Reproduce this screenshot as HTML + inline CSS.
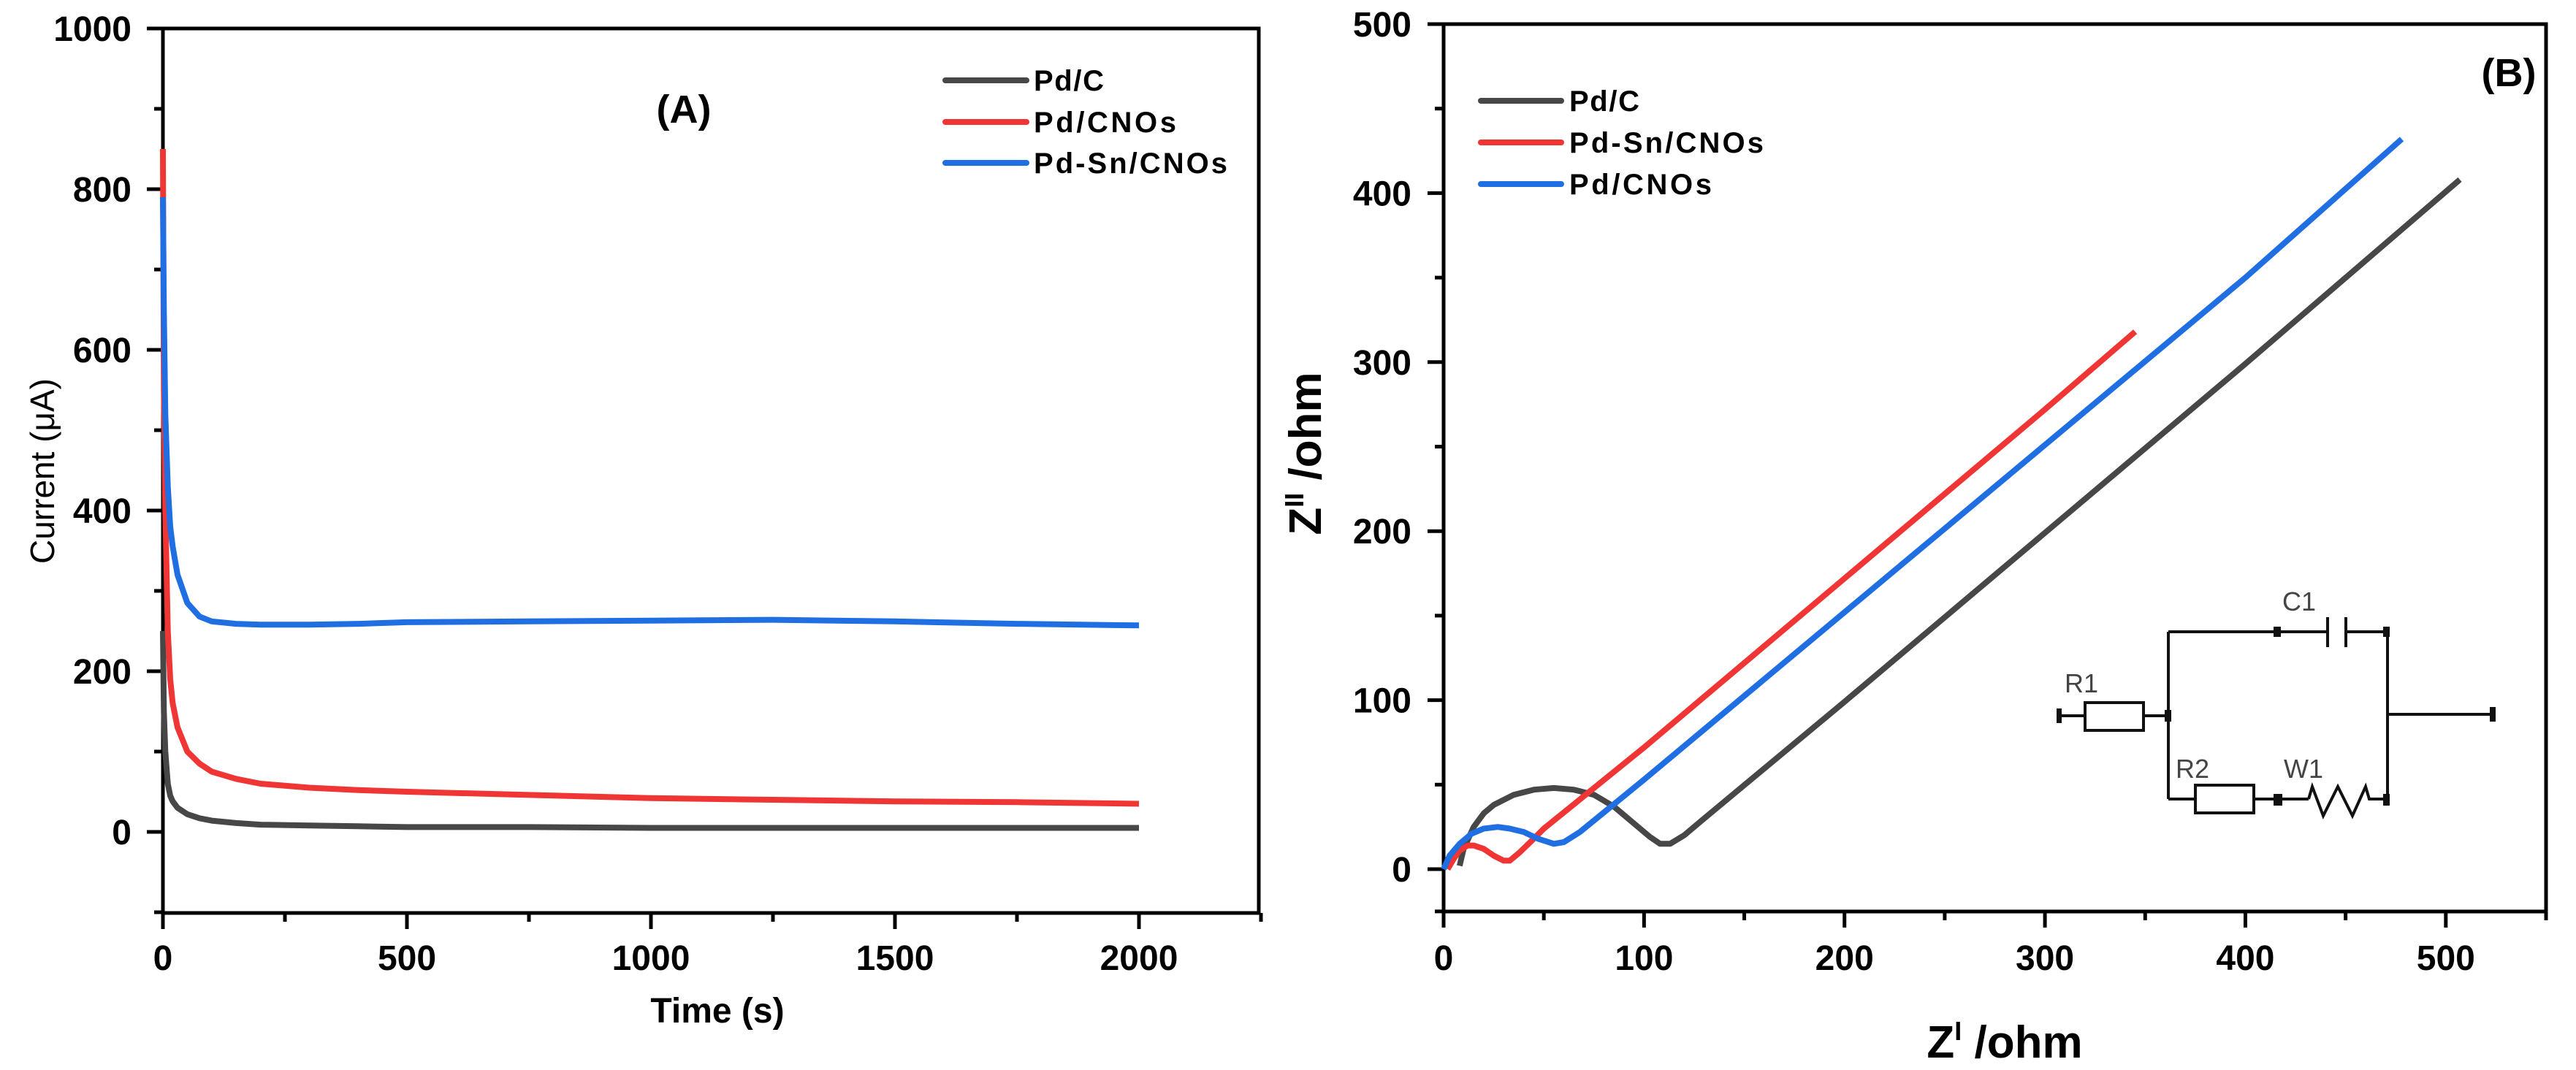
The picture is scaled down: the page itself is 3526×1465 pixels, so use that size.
<!DOCTYPE html>
<html><head><meta charset="utf-8"><style>
html,body{margin:0;padding:0;background:#fff}
svg{display:block}
text{font-family:"Liberation Sans",Arial,sans-serif}
</style></head><body>
<svg id="fig" width="3526" height="1465" viewBox="0 0 3526 1465" xmlns="http://www.w3.org/2000/svg">
<g id="panelA"></g>
<g id="panelB"></g>
<g stroke="#111" stroke-width="4" fill="none">
  <line x1="2818" y1="980" x2="2854" y2="980"/>
  <rect x="2854" y="962" width="80" height="38" fill="#fff"/>
  <line x1="2934" y1="980" x2="2968" y2="980"/>
  <line x1="2968" y1="865" x2="2968" y2="1094"/>
  <line x1="2968" y1="865" x2="3186" y2="865"/>
  <line x1="3186" y1="845" x2="3186" y2="886"/>
  <line x1="3211" y1="845" x2="3211" y2="886"/>
  <line x1="3211" y1="865" x2="3268" y2="865"/>
  <line x1="3268" y1="865" x2="3268" y2="1094"/>
  <line x1="3268" y1="978" x2="3412" y2="978"/>
  <line x1="2968" y1="1094" x2="3005" y2="1094"/>
  <rect x="3005" y="1075" width="80" height="38" fill="#fff"/>
  <line x1="3085" y1="1094" x2="3160" y2="1094"/>
  <polyline points="3160,1094 3165,1077 3180,1117 3200,1077 3220,1117 3238,1077 3243,1094 3268,1094"/>
  <g fill="#111" stroke="none">
    <rect x="2815" y="970" width="7" height="20"/>
    <rect x="2963" y="972" width="9" height="16"/>
    <rect x="3112" y="858" width="10" height="14"/>
    <rect x="3262" y="858" width="9" height="14"/>
    <rect x="3408" y="968" width="8" height="20"/>
    <rect x="3112" y="1087" width="12" height="16"/>
    <rect x="3262" y="1087" width="9" height="16"/>
  </g>
</g>
<g fill="#444" font-size="36">
  <text x="2826" y="948">R1</text>
  <text x="2978" y="1065">R2</text>
  <text x="3126" y="1065">W1</text>
  <text x="3124" y="836">C1</text>
</g>
</svg>
<script>
// ---------- Panel A data ----------
const aTime = [0, 2, 5, 10, 15, 20, 30, 50, 75, 100, 150, 200, 300, 400, 500, 750, 1000, 1250, 1500, 1750, 2000];
const aPdC = [250, 150, 100, 60, 45, 38, 30, 22, 17, 14, 11, 9, 8, 7, 6, 6, 5, 5, 5, 5, 5];
const aPdCNOs = [850, 550, 400, 250, 190, 160, 130, 100, 85, 75, 66, 60, 55, 52, 50, 46, 42, 40, 38, 37, 35];
const aPdSnCNOs = [790, 650, 520, 430, 380, 355, 320, 285, 268, 262, 259, 258, 258, 259, 261, 262, 263, 264, 262, 259, 257];
const aXTicks = [0, 500, 1000, 1500, 2000];
const aYTicks = [0, 200, 400, 600, 800, 1000];
const aLegend = ["Pd/C", "Pd/CNOs", "Pd-Sn/CNOs"];

// ---------- Panel B data ----------
const bPdCx = [8, 10, 15, 20, 25, 35, 45, 55, 65, 75, 85, 95, 103, 108, 113, 120, 130, 200, 300, 400, 507];
const bPdCy = [2, 12, 25, 33, 38, 44, 47, 48, 47, 44, 37, 27, 19, 15, 15, 20, 30, 99, 199, 299, 408];
const bSnx = [2, 5, 8, 12, 15, 20, 25, 30, 33, 38, 45, 50, 100, 200, 300, 345];
const bSny = [0, 6, 11, 14, 14, 12, 8, 5, 5, 10, 18, 24, 72, 172, 272, 318];
const bPdCNOsx = [0, 3, 8, 14, 20, 27, 33, 40, 47, 55, 60, 68, 100, 200, 300, 400, 478];
const bPdCNOsy = [0, 8, 15, 21, 24, 25, 24, 22, 18, 15, 16, 22, 53, 152, 251, 350, 432];
const bXTicks = [0, 100, 200, 300, 400, 500];
const bYTicks = [0, 100, 200, 300, 400, 500];
const bLegend = ["Pd/C", "Pd-Sn/CNOs", "Pd/CNOs"];

const NS = "http://www.w3.org/2000/svg";
const COLORS = {k:"#474747", r:"#f03535", b:"#1f6fe3"};
function mk(parent, tag, attrs, txt){
  const e = document.createElementNS(NS, tag);
  for (const k in attrs) e.setAttribute(k, attrs[k]);
  if (txt !== undefined) e.textContent = txt;
  parent.appendChild(e);
  return e;
}

// ---------- Panel A ----------
const A = document.getElementById("panelA");
const aL = 223, aR = 1723, aT = 39, aB = 1250;
const ax = v => aL + (v - 0) * (1559 - 223) / 2000;
const ay = v => 1139 - v * 1.1;

function frame(g, L, R, T, B){
  const f = mk(g, "rect", {x:L, y:T, width:R-L, height:B-T, fill:"none", stroke:"#000", "stroke-width":5});
  
  
}
frame(A, aL, aR, aT, aB);

for (let v = 0; v <= 2250; v += 250) {
  const major = v % 500 === 0;
  const t = mk(A, "line", {x1:ax(v), x2:ax(v), y1:aB, y2:aB + (major ? 22 : 12), stroke:"#000", "stroke-width":5});
  
  
}
for (let v = -100; v <= 1000; v += 100) {
  const major = v % 200 === 0;
  const t = mk(A, "line", {x1:aL, x2:aL - (major ? 22 : 12), y1:ay(v), y2:ay(v), stroke:"#000", "stroke-width":5});
  
  
}
aXTicks.forEach(v => {
  const t = mk(A, "text", {x:ax(v), y:1328, "font-size":48, "font-weight":"bold", "text-anchor":"middle"}, String(v));
  
  
});
aYTicks.forEach(v => {
  const t = mk(A, "text", {x:180, y:ay(v) + 17, "font-size":48, "font-weight":"bold", "text-anchor":"end"}, String(v));
  
  
});
{
  const t = mk(A, "text", {x:982, y:1400, "font-size":48, "font-weight":"bold", "text-anchor":"middle"}, "Time (s)");
  
  
  const y = mk(A, "text", {x:0, y:0, "font-size":46, "text-anchor":"middle", transform:"translate(74,645) rotate(-90)"}, "Current (μA)");
  
  
  const p = mk(A, "text", {x:936, y:168, "font-size":54, "font-weight":"bold", "text-anchor":"middle"}, "(A)");
  
  
}
function series(g, xs, ys, fx, fy, color, name){
  const pts = xs.map((x, i) => fx(x).toFixed(1) + "," + fy(ys[i]).toFixed(1)).join(" ");
  const p = mk(g, "polyline", {points:pts, fill:"none", stroke:color, "stroke-width":8, "stroke-linejoin":"round", "stroke-linecap":"butt"});
  
  
}
series(A, aTime, aPdC, ax, ay, COLORS.k, "series-pd-c");
series(A, aTime, aPdCNOs, ax, ay, COLORS.r, "series-pd-cnos");
series(A, aTime, aPdSnCNOs, ax, ay, COLORS.b, "series-pd-sn-cnos");

function legend(g, labels, colors, x1, x2, tx, ys, widths){
  labels.forEach((lab, i) => {
    const l = mk(g, "line", {x1:x1, x2:x2, y1:ys[i], y2:ys[i], stroke:colors[i], "stroke-width":8, "stroke-linecap":"round"});
    
    
    const t = mk(g, "text", {x:tx, y:ys[i] + 14, "font-size":40, "font-weight":"bold", textLength:widths[i], lengthAdjust:"spacing"}, lab);
    
    
  });
}
legend(A, aLegend, [COLORS.k, COLORS.r, COLORS.b], 1294, 1405, 1415, [110, 167, 223], [96, 195, 265]);

// ---------- Panel B ----------
const B = document.getElementById("panelB");
const bL = 1976, bR = 3485, bT = 33, bB = 1248;
const bx = v => bL + v * (bR - bL) / 550;
const by = v => 1190 - v * 2.314;
frame(B, bL, bR, bT, bB);
for (let v = 0; v <= 550; v += 50) {
  const major = v % 100 === 0;
  const t = mk(B, "line", {x1:bx(v), x2:bx(v), y1:bB, y2:bB + (major ? 22 : 12), stroke:"#000", "stroke-width":5});
  
  
}
for (let v = -25; v <= 500; v += 25) {
  if (v % 50 !== 0 && v !== -25) continue;
  const major = v % 100 === 0;
  const t = mk(B, "line", {x1:bL, x2:bL - (major ? 22 : 12), y1:by(v), y2:by(v), stroke:"#000", "stroke-width":5});
  
  
}
bXTicks.forEach(v => {
  const t = mk(B, "text", {x:bx(v), y:1328, "font-size":48, "font-weight":"bold", "text-anchor":"middle"}, String(v));
  
  
});
bYTicks.forEach(v => {
  const t = mk(B, "text", {x:1932, y:by(v) + 17, "font-size":48, "font-weight":"bold", "text-anchor":"end"}, String(v));
  
  
});
{
  const t = mk(B, "text", {x:2744, y:1448, "font-size":62, "font-weight":"bold", "text-anchor":"middle"});
  
  
  mk(t, "tspan", {}, "Z");
  mk(t, "tspan", {dy:-24, "font-size":36}, "I");
  mk(t, "tspan", {dy:24}, " /ohm");
  const y = mk(B, "text", {x:0, y:0, "font-size":62, "font-weight":"bold", "text-anchor":"middle", transform:"translate(1808,621) rotate(-90)"});
  
  
  mk(y, "tspan", {}, "Z");
  mk(y, "tspan", {dy:-24, "font-size":36}, "II");
  mk(y, "tspan", {dy:24}, " /ohm");
  const p = mk(B, "text", {x:3434, y:118, "font-size":54, "font-weight":"bold", "text-anchor":"middle"}, "(B)");
  
  
}
series(B, bPdCx, bPdCy, bx, by, COLORS.k, "series-pd-c");
series(B, bSnx, bSny, bx, by, COLORS.r, "series-pd-sn-cnos");
series(B, bPdCNOsx, bPdCNOsy, bx, by, COLORS.b, "series-pd-cnos");
legend(B, bLegend, [COLORS.k, COLORS.r, COLORS.b], 2027, 2137, 2148, [138, 195, 252], [96, 266, 195]);
</script>
</body></html>
